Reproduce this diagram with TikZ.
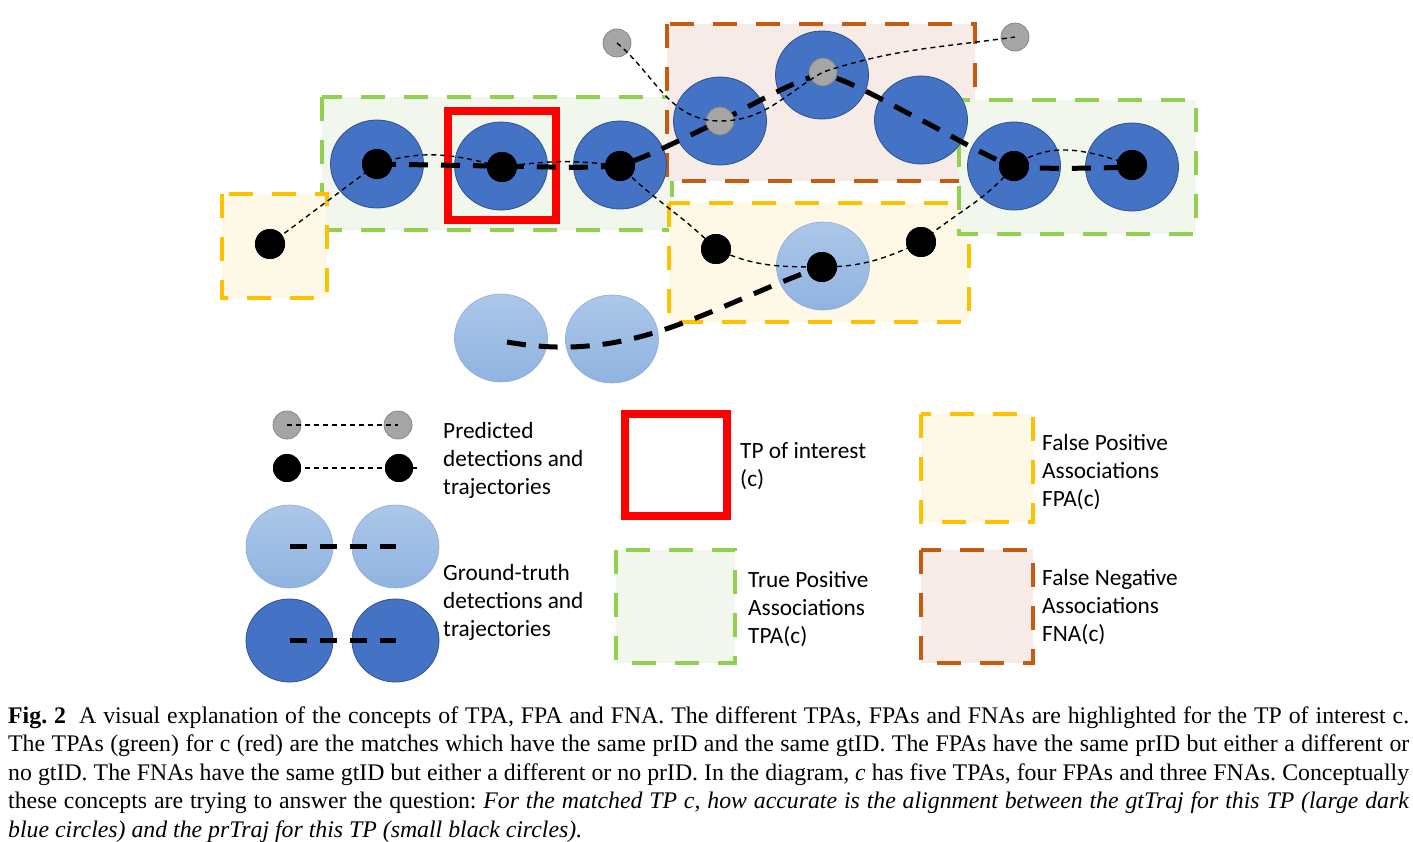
\documentclass[tikz,border=0pt]{standalone}
\usepackage{fontspec}
\setmainfont{Liberation Serif}
\newfontfamily\calibri{Carlito}
\usetikzlibrary{shapes.geometric}
\definecolor{dkblue}{RGB}{68,114,196}
\definecolor{dkedge}{RGB}{47,82,143}
\definecolor{lbtop}{RGB}{172,199,233}
\definecolor{lbbot}{RGB}{143,179,224}
\definecolor{lbedge}{RGB}{143,170,220}
\definecolor{grayfill}{RGB}{165,165,165}
\definecolor{grayedge}{RGB}{127,127,127}
\definecolor{tpagreen}{RGB}{146,208,80}
\definecolor{tpafill}{RGB}{241,247,236}
\definecolor{fpayellow}{RGB}{255,192,0}
\definecolor{fpafill}{RGB}{254,248,231}
\definecolor{fnaorange}{RGB}{197,90,17}
\definecolor{fnafill}{RGB}{246,235,231}
\newcommand{\lgt}[1]{{\calibri\fontsize{23.3}{28.3}\selectfont\begin{tabular}[t]{@{}l@{}}#1\end{tabular}}}
\begin{document}
\begin{tikzpicture}[x=1pt,y=-1pt,
  gtdark/.style={ellipse, inner sep=0pt, minimum width=93pt, minimum height=88pt, fill=dkblue, draw=dkedge, line width=0.8pt},
  gtlight/.style={ellipse, inner sep=0pt, minimum width=93pt, minimum height=88pt, top color=lbtop, bottom color=lbbot, draw=lbedge, line width=0.6pt},
  gtdarksm/.style={gtdark, minimum width=87pt, minimum height=83pt},
  gtlightsm/.style={gtlight, minimum width=87pt, minimum height=83pt},
  prdot/.style={circle, inner sep=0pt, minimum size=30pt, fill=black},
  prdotsm/.style={circle, inner sep=0pt, minimum size=28pt, fill=black},
  prgray/.style={circle, inner sep=0pt, minimum size=28pt, fill=grayfill, draw=grayedge, line width=0.7pt},
  prtraj/.style={line width=1.4pt, dash pattern=on 5pt off 4pt},
  gttraj/.style={line width=5pt, dash pattern=on 19pt off 13pt},
  gtlegend/.style={line width=5pt, dash pattern=on 17pt off 13pt},
  tpabox/.style={draw=tpagreen, fill=tpafill, line width=4.5pt, dash pattern=on 24pt off 19pt},
  fpabox/.style={draw=fpayellow, fill=fpafill, line width=4.5pt, dash pattern=on 24pt off 19pt},
  fnabox/.style={draw=fnaorange, fill=fnafill, line width=4.5pt, dash pattern=on 24pt off 19pt},
  tpbox/.style={draw=red, line width=8pt},
  lbl/.style={anchor=base west, inner sep=0pt}
]
\useasboundingbox (0,0) rectangle (1413,841);
\fill[white] (0,0) rectangle (1413,841);

% ---------- association boxes ----------
\draw[tpabox] (322,97) rectangle (672,230);
\draw[fpabox] (222,194) rectangle (327,298);
\draw[fnabox] (667,24) rectangle (975,181);
\draw[fpabox] (669,203) rectangle (969,322);
\draw[tpabox] (959,100) rectangle (1196,234);

% ---------- ground-truth detections ----------
\node[gtdark] (B1) at (377,164) {};
\node[gtdark] (B2) at (501,166) {};
\node[gtdark] (B3) at (620,165) {};
\node[gtdark] (F1) at (720,121) {};
\node[gtdark] (F2) at (822,75) {};
\node[gtdark] (F3) at (921,120) {};
\node[gtdark] (R1) at (1014,166) {};
\node[gtdark] (R2) at (1132,167) {};
\node[gtlight] (L1) at (501,338) {};
\node[gtlight] (L2) at (612,339) {};
\node[gtlight] (L3) at (823,266) {};

% ---------- TP of interest ----------
\draw[tpbox] (447.5,111) rectangle (556,220);

% ---------- ground-truth trajectories ----------
\draw[gttraj] plot[smooth, tension=0.35] coordinates {(B1.center) (B2.center) (B3.center) (F1.center) (F2.center) (F3.center) (R1.center) (R2.center)};
\coordinate (Lst) at (507,342);
\draw[gttraj] (Lst) to[out=-10,in=200] (L3.center);

% ---------- predicted detections ----------
\node[prgray] (g0) at (617,43) {};
\node[prgray] (g1) at (720,121) {};
\node[prgray] (g2) at (823,72) {};
\node[prgray] (g3) at (1015,37) {};
\draw[prtraj] (g0.center) to[out=-40,in=180] (g1.center) to[out=0,in=210] (g2.center) to[out=18,in=188] (g3.center);

\node[prdot] (d0) at (270,244) {};
\node[prdot] (d1) at (377,164) {};
\node[prdot] (d2) at (502,167) {};
\node[prdot] (d3) at (620,166) {};
\node[prdot] (d4) at (716,249) {};
\node[prdot] (d5) at (822,267) {};
\node[prdot] (d6) at (921,242) {};
\node[prdot] (d7) at (1014,166) {};
\node[prdot] (d8) at (1132,165) {};
\draw[prtraj] (d0.center) -- (d1.center) to[out=18,in=165] (d2.center) to[out=8,in=172] (d3.center)
  to[out=-45,in=135] (d4.center) to[out=-25,in=180] (d5.center) to[out=0,in=-155] (d6.center)
  to[out=40,in=-130] (d7.center) to[out=35,in=162] (d8.center);
\foreach \n in {d0,d1,d2,d3,d4,d5,d6,d7,d8} \fill (\n) circle (15pt);

% ---------- legend ----------
\node[prgray] (lg1) at (287,425) {};
\node[prgray] (lg2) at (398,425) {};
\draw[prtraj] (lg1.center) -- (lg2.center);
\coordinate (lbend) at (417,468);
\node[prdotsm] (lb1) at (287,468) {};
\node[prdotsm] (lb2) at (399,468) {};
\draw[prtraj] (lb1.center) -- (lbend);
\fill (lb1) circle (14pt);
\fill (lb2) circle (14pt);

\node[gtlightsm] (ll1) at (289.5,546.5) {};
\node[gtlightsm] (ll2) at (395.5,546.5) {};
\draw[gtlegend] (ll1.center) -- (ll2.center);
\node[gtdarksm] (ld1) at (289.5,640.5) {};
\node[gtdarksm] (ld2) at (395.5,640.5) {};
\draw[gtlegend] (ld1.center) -- (ld2.center);

\node[lbl] (tpred) at (443,438) {\lgt{Predicted\\detections and\\trajectories}};
\node[lbl] (tgt) at (443,580) {\lgt{Ground-truth\\detections and\\trajectories}};

\draw[tpbox] (625,414) rectangle (726.5,515.5);
\node[lbl] (ttp) at (740,458) {\lgt{TP of interest\\(c)}};

\draw[tpabox] (616,550) rectangle (735,663);
\node[lbl] (ttpa) at (748,587) {\lgt{True Positive\\Associations\\TPA(c)}};

\draw[fpabox] (921,414) rectangle (1033,522);
\node[lbl] (tfpa) at (1042,450) {\lgt{False Positive\\Associations\\FPA(c)}};

\draw[fnabox] (921,550) rectangle (1033,663);
\node[lbl] (tfna) at (1042,585) {\lgt{False Negative\\Associations\\FNA(c)}};

% ---------- caption ----------
\node[lbl] (cap) at (8,723) {\parbox[t]{1401pt}{\fontsize{23.8}{28.5}\selectfont\frenchspacing
\makebox[1401pt][s]{\textbf{Fig.\ 2}\hspace{0.55em}A visual explanation of the concepts of TPA, FPA and FNA. The different TPAs, FPAs and FNAs are highlighted for the TP of interest c.}\\
\makebox[1401pt][s]{The TPAs (green) for c (red) are the matches which have the same prID and the same gtID. The FPAs have the same prID but either a different or}\\
\makebox[1401pt][s]{no gtID. The FNAs have the same gtID but either a different or no prID. In the diagram, \textit{c} has five TPAs, four FPAs and three FNAs. Conceptually}\\
\makebox[1401pt][s]{these concepts are trying to answer the question: \textit{For the matched TP c, how accurate is the alignment between the gtTraj for this TP (large dark}}\\
\textit{blue circles) and the prTraj for this TP (small black circles).}}};
\end{tikzpicture}
\end{document}
